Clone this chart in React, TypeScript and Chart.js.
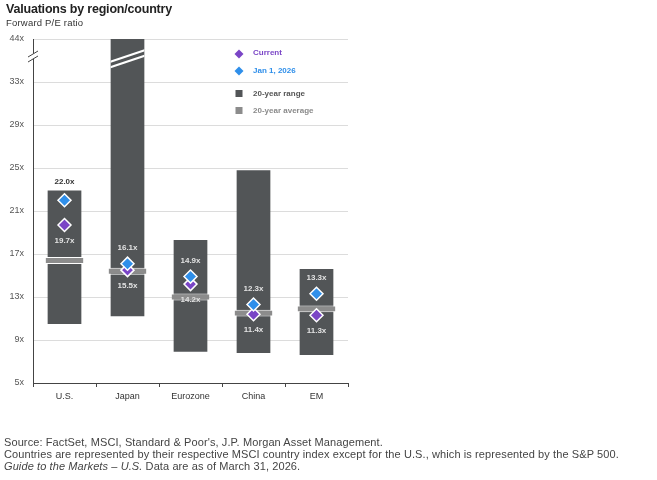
import React, { useEffect, useRef } from "react";
import { Chart, registerables } from "chart.js";

Chart.register(...registerables);

const categories = ["U.S.", "Japan", "Eurozone", "China", "EM"];
const rangeLow = [10.5, 11.2, 7.9, 7.8, 7.6];
const rangeHigh = [22.9, 46.0, 18.3, 24.8, 15.6];
const average = [16.4, 15.4, 13.0, 11.5, 11.9];
const current = [19.7, 15.5, 14.2, 11.4, 11.3];
const jan2026 = [22.0, 16.1, 14.9, 12.3, 13.3];
const yTickLabels = [5, 9, 13, 17, 21, 25, 29, 33, 44];

const BREAK_FROM = 33;
const BREAK_TO = 44;
const BREAK_AXIS_TOP = 37;

const toAxis = (v: number) =>
  v <= BREAK_FROM ? v : BREAK_FROM + ((v - BREAK_FROM) * (BREAK_AXIS_TOP - BREAK_FROM)) / (BREAK_TO - BREAK_FROM);
const fromAxis = (a: number) =>
  a <= BREAK_FROM ? a : BREAK_FROM + ((a - BREAK_FROM) * (BREAK_TO - BREAK_FROM)) / (BREAK_AXIS_TOP - BREAK_FROM);

const FONT = "'Liberation Sans', Arial, sans-serif";
const PURPLE = "#7a45c6";
const BLUE = "#2f8fea";
const DARK = "#525557";
const AVG = "#8c8c8c";

const overlayPlugin = {
  id: "overlay",
  afterDatasetsDraw(chart: any) {
    const ctx = chart.ctx as CanvasRenderingContext2D;
    const { left, top, bottom } = chart.chartArea;
    const xs = chart.scales.x;
    const ys = chart.scales.y;

    // Japan bar break
    const rangeMeta = chart.getDatasetMeta(0);
    const jp = rangeMeta.data[1];
    if (jp) {
      const bl = jp.x - jp.width / 2;
      const br = jp.x + jp.width / 2;
      ctx.save();
      ctx.beginPath();
      ctx.rect(bl, top, br - bl, bottom - top);
      ctx.clip();
      ctx.strokeStyle = "#ffffff";
      ctx.lineWidth = 2;
      for (const off of [0, 5.5]) {
        ctx.beginPath();
        ctx.moveTo(bl - 1, top + 23 + off);
        ctx.lineTo(br + 1, top + 11 + off);
        ctx.stroke();
      }
      ctx.restore();
    }

    // labels
    ctx.save();
    ctx.font = `bold 8px ${FONT}`;
    ctx.textAlign = "center";
    ctx.textBaseline = "middle";
    categories.forEach((_, i) => {
      const x = xs.getPixelForValue(i);
      const barTop = Math.max(top, ys.getPixelForValue(toAxis(rangeHigh[i])));
      let yJ = ys.getPixelForValue(toAxis(jan2026[i])) - 16;
      if (yJ > barTop - 10 && yJ < barTop + 3) yJ = barTop - 9;
      ctx.fillStyle = yJ < barTop ? "#333333" : "#e2e2e2";
      ctx.fillText(`${jan2026[i].toFixed(1)}x`, x, yJ);
      const yC = ys.getPixelForValue(toAxis(current[i])) + 16;
      ctx.fillStyle = "#e2e2e2";
      ctx.fillText(`${current[i].toFixed(1)}x`, x, yC);
    });
    ctx.restore();

    // axis break mark
    ctx.save();
    const bx = left;
    const by = top + 15;
    ctx.fillStyle = "#ffffff";
    ctx.beginPath();
    ctx.moveTo(bx - 5, by + 3);
    ctx.lineTo(bx + 5, by - 3);
    ctx.lineTo(bx + 5, by + 2);
    ctx.lineTo(bx - 5, by + 8);
    ctx.closePath();
    ctx.fill();
    ctx.strokeStyle = "#444444";
    ctx.lineWidth = 1;
    ctx.beginPath();
    ctx.moveTo(bx - 5, by + 3);
    ctx.lineTo(bx + 5, by - 3);
    ctx.moveTo(bx - 5, by + 8);
    ctx.lineTo(bx + 5, by + 2);
    ctx.stroke();
    ctx.restore();

    // legend
    ctx.save();
    const lx = left + 206;
    const tx = left + 220;
    ctx.font = `bold 8px ${FONT}`;
    ctx.textAlign = "left";
    ctx.textBaseline = "middle";
    const diamond = (cx: number, cy: number, color: string) => {
      ctx.fillStyle = color;
      ctx.beginPath();
      ctx.moveTo(cx, cy - 4.5);
      ctx.lineTo(cx + 4.5, cy);
      ctx.lineTo(cx, cy + 4.5);
      ctx.lineTo(cx - 4.5, cy);
      ctx.closePath();
      ctx.fill();
    };
    diamond(lx, top + 15, PURPLE);
    ctx.fillStyle = PURPLE;
    ctx.fillText("Current", tx, top + 14);
    diamond(lx, top + 32, BLUE);
    ctx.fillStyle = BLUE;
    ctx.fillText("Jan 1, 2026", tx, top + 32);
    ctx.fillStyle = DARK;
    ctx.fillRect(lx - 3.5, top + 51, 7, 7);
    ctx.fillStyle = "#555555";
    ctx.fillText("20-year range", tx, top + 55);
    ctx.fillStyle = AVG;
    ctx.fillRect(lx - 3.5, top + 68, 7, 7);
    ctx.fillStyle = "#8a8a8a";
    ctx.fillText("20-year average", tx, top + 72);
    ctx.restore();
  },
};

export default function App() {
  const canvasRef = useRef<HTMLCanvasElement | null>(null);

  useEffect(() => {
    if (!canvasRef.current) return;
    const chart = new Chart(canvasRef.current, {
      type: "bar",
      data: {
        labels: categories,
        datasets: [
          {
            type: "bar",
            label: "20-year range",
            data: categories.map((_, i) => [toAxis(rangeLow[i]), toAxis(rangeHigh[i])]) as any,
            backgroundColor: DARK,
            barPercentage: 0.535,
            categoryPercentage: 1,
            grouped: false,
            order: 3,
            clip: 0,
          } as any,
          {
            type: "bar",
            label: "20-year average",
            data: average.map((a) => [toAxis(a) - 0.32, toAxis(a) + 0.32]) as any,
            backgroundColor: AVG,
            borderColor: "#ffffff",
            borderWidth: { top: 1, bottom: 1, left: 0, right: 0 },
            borderSkipped: false,
            barPercentage: 0.6,
            categoryPercentage: 1,
            grouped: false,
            order: 2,
          } as any,
          {
            type: "line",
            label: "Current",
            data: current.map(toAxis),
            showLine: false,
            pointStyle: "rectRot",
            pointRadius: 6.5,
            pointHoverRadius: 6.5,
            pointBackgroundColor: PURPLE,
            pointBorderColor: "#ffffff",
            pointBorderWidth: 1.5,
            order: 1,
          } as any,
          {
            type: "line",
            label: "Jan 1, 2026",
            data: jan2026.map(toAxis),
            showLine: false,
            pointStyle: "rectRot",
            pointRadius: 6.5,
            pointHoverRadius: 6.5,
            pointBackgroundColor: BLUE,
            pointBorderColor: "#ffffff",
            pointBorderWidth: 1.5,
            order: 0,
          } as any,
        ],
      },
      options: {
        responsive: false,
        animation: false,
        events: [],
        layout: { padding: { left: 0, top: 39, right: 309, bottom: 77 } },
        plugins: { legend: { display: false }, tooltip: { enabled: false } },
        scales: {
          x: {
            type: "category",
            offset: true,
            grid: {
              display: true,
              offset: true,
              drawOnChartArea: false,
              drawTicks: true,
              tickLength: 4,
              color: "#444444",
            },
            border: { display: true, color: "#444444", width: 1 },
            ticks: {
              color: "#333333",
              font: { size: 9, family: FONT },
              padding: 4,
              maxRotation: 0,
              autoSkip: false,
            },
            afterFit: (s: any) => {
              s.height = 20;
            },
          },
          y: {
            type: "linear",
            min: 5,
            max: BREAK_AXIS_TOP,
            afterBuildTicks: (s: any) => {
              s.ticks = yTickLabels.map((v) => ({ value: toAxis(v) }));
            },
            ticks: {
              callback: (v: any) => `${Math.round(fromAxis(Number(v)))}x`,
              color: "#555555",
              font: { size: 9, family: FONT },
              padding: 9,
            },
            grid: { color: "#dcdcdc", drawTicks: false },
            border: { display: true, color: "#444444", width: 1 },
            afterFit: (s: any) => {
              s.width = 33;
            },
          },
        },
      } as any,
      plugins: [overlayPlugin],
    });
    return () => chart.destroy();
  }, []);

  return (
    <div
      style={{
        position: "absolute",
        left: 0,
        top: 0,
        width: 657,
        height: 480,
        background: "#ffffff",
        fontFamily: FONT,
        overflow: "hidden",
      }}
    >
      <canvas
        ref={canvasRef}
        width={657}
        height={480}
        style={{ position: "absolute", left: 0, top: 0, display: "block" }}
      />
      <div
        style={{
          position: "absolute",
          left: 6,
          top: 2,
          fontSize: 12.5,
          fontWeight: "bold",
          color: "#222",
          letterSpacing: -0.2,
          whiteSpace: "nowrap",
        }}
      >
        Valuations by region/country
      </div>
      <div
        style={{
          position: "absolute",
          left: 6,
          top: 17,
          fontSize: 9.5,
          color: "#333",
          letterSpacing: 0.2,
          whiteSpace: "nowrap",
        }}
      >
        Forward P/E ratio
      </div>
      <div
        style={{
          position: "absolute",
          left: 4,
          top: 436,
          fontSize: 11,
          lineHeight: "12px",
          color: "#444",
          letterSpacing: 0.1,
          whiteSpace: "nowrap",
        }}
      >
        <div>Source: FactSet, MSCI, Standard &amp; Poor&apos;s, J.P. Morgan Asset Management.</div>
        <div>
          Countries are represented by their respective MSCI country index except for the U.S., which is represented by
          the S&amp;P 500.
        </div>
        <div>
          <i>Guide to the Markets – U.S.</i> Data are as of March 31, 2026.
        </div>
      </div>
    </div>
  );
}
